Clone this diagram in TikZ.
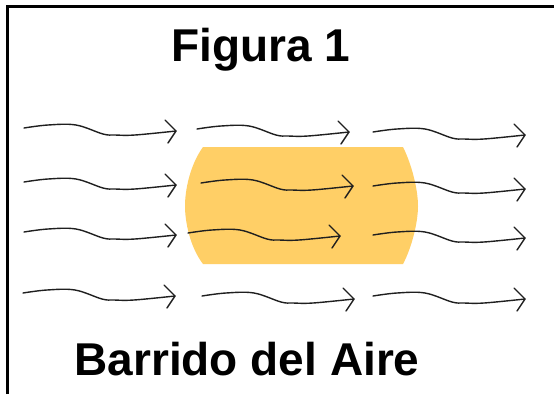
\documentclass[tikz,border=0pt]{standalone}
\usepackage{fontspec}
\setmainfont{Liberation Sans}
\definecolor{sand}{RGB}{255,207,102}
\tikzset{
  wind/.pic={
    \draw[line width=1.4pt, black!88, line join=round, line cap=round]
      plot[smooth, tension=0.6] coordinates {(0,0) (24,-3) (52,-3) (79,6) (91,7) (111,7) (152,3)};
    \draw[line width=1.4pt, black!88, line cap=round, line join=round]
      (141,-8) -- (152,3) -- (144,15);
  },
  title/.style={font=\fontsize{46}{50}\selectfont\bfseries, anchor=base, inner sep=0pt}
}
\begin{document}
\begin{tikzpicture}[x=1pt, y=-1pt]
\useasboundingbox (0,0) rectangle (554,394);
\fill[white] (0,0) rectangle (554,394);
% frame (left and top only)
\draw[line width=3.2pt] (7.2,394) -- (7.2,6.8) -- (554,6.8);
% yellow body
\fill[sand] (203,147) -- (403,147)
  .. controls (412,165) and (418,190) .. (418,206)
  .. controls (418,222) and (412,247) .. (403,264)
  -- (203,264)
  .. controls (190,247) and (185,222) .. (185,206)
  .. controls (185,190) and (190,165) .. (203,147) -- cycle;
% titles
\node[title] (t1) at (261,61) {Figura 1};
\node[title] (t2) at (247,375) {Barrido del Aire};
% wind arrows
\pic at (24,128) {wind};
\pic at (197,129) {wind};
\pic at (373,132) {wind};
\pic at (24,182) {wind};
\pic at (201,183) {wind};
\pic at (373,186) {wind};
\pic at (24,232) {wind};
\pic at (188,233) {wind};
\pic at (373,235) {wind};
\pic at (23,293) {wind};
\pic at (202,296) {wind};
\pic at (373,296) {wind};
\end{tikzpicture}
\end{document}
